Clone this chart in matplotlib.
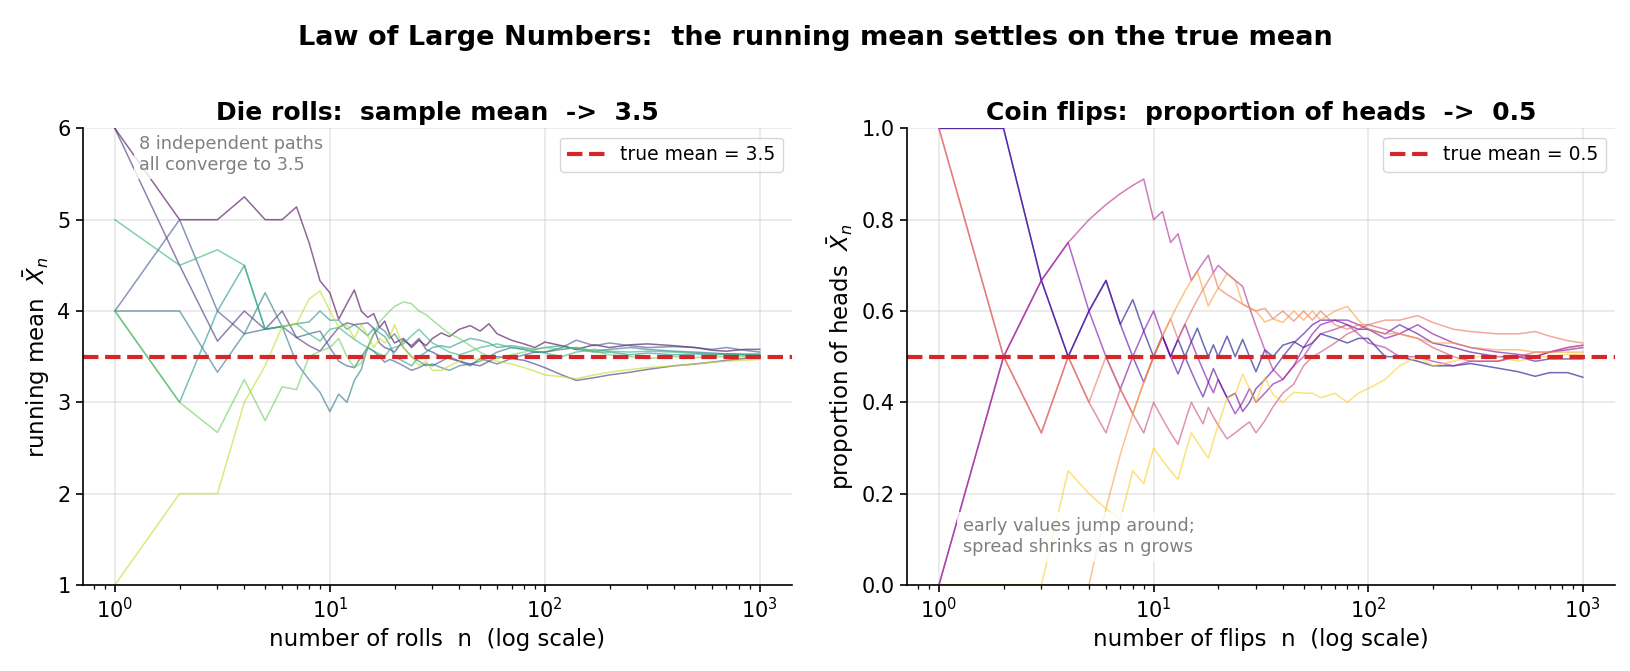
import numpy as np
import matplotlib.pyplot as plt

# sample points along each path (n on a log axis)
n_grid = [1, 2, 3, 4, 5, 6, 7, 8, 9, 10,
          11, 12, 13, 14, 15, 16, 17, 18, 19, 20,
          22, 24, 26, 28, 30, 33, 36, 40, 45, 50,
          55, 60, 70, 80, 90, 100, 120, 140, 170, 200,
          250, 300, 400, 500, 600, 700, 850, 1000]

# die rolls: running mean of 8 independent paths
die_path_1 = [6, 5, 5, 5.25, 5, 5, 5.14, 4.75, 4.33, 4.2,
              3.91, 4.08, 4.23, 4.0, 3.93, 3.97, 3.82, 3.89, 3.74, 3.65,
              3.7, 3.6, 3.68, 3.62, 3.7, 3.76, 3.72, 3.8, 3.84, 3.78,
              3.86, 3.75, 3.68, 3.64, 3.6, 3.66, 3.62, 3.58, 3.63, 3.6,
              3.63, 3.64, 3.62, 3.6, 3.57, 3.56, 3.58, 3.58]
die_path_2 = [6, 4.5, 3.67, 4, 3.8, 4, 3.71, 3.62, 3.56, 3.7,
              3.82, 3.87, 3.85, 3.86, 3.87, 3.81, 3.65, 3.6, 3.58, 3.55,
              3.68, 3.62, 3.7, 3.58, 3.55, 3.5, 3.48, 3.45, 3.42, 3.4,
              3.45, 3.5, 3.48, 3.46, 3.42, 3.38, 3.3, 3.24, 3.27, 3.3,
              3.33, 3.36, 3.4, 3.42, 3.44, 3.46, 3.48, 3.5]
die_path_3 = [4, 5, 4, 3.75, 3.8, 3.83, 3.71, 3.75, 3.78, 3.6,
              3.45, 3.4, 3.38, 3.5, 3.6, 3.56, 3.5, 3.44, 3.47, 3.45,
              3.4, 3.35, 3.38, 3.42, 3.4, 3.45, 3.5, 3.45, 3.4, 3.48,
              3.45, 3.42, 3.48, 3.52, 3.55, 3.55, 3.6, 3.68, 3.62, 3.65,
              3.62, 3.6, 3.61, 3.6, 3.58, 3.6, 3.57, 3.55]
die_path_4 = [4, 4, 3.33, 3.75, 4.2, 3.83, 3.43, 3.25, 3.11, 2.9,
              3.09, 3.0, 3.24, 3.36, 3.6, 3.75, 3.82, 3.78, 3.7, 3.75,
              3.6, 3.5, 3.45, 3.4, 3.42, 3.38, 3.35, 3.4, 3.42, 3.45,
              3.5, 3.55, 3.6, 3.58, 3.55, 3.55, 3.58, 3.6, 3.56, 3.58,
              3.6, 3.58, 3.56, 3.55, 3.54, 3.53, 3.52, 3.52]
die_path_5 = [4, 3, 4, 4.5, 3.8, 3.83, 3.86, 3.88, 4.0, 3.9,
              3.9, 3.8, 3.85, 3.79, 3.73, 3.81, 3.76, 3.72, 3.63, 3.5,
              3.45, 3.4, 3.5, 3.55, 3.6, 3.62, 3.6, 3.65, 3.7, 3.68,
              3.65, 3.6, 3.62, 3.6, 3.58, 3.6, 3.62, 3.58, 3.55, 3.55,
              3.52, 3.54, 3.52, 3.53, 3.52, 3.53, 3.53, 3.53]
die_path_6 = [5, 4.5, 4.67, 4.5, 3.8, 3.83, 3.86, 3.75, 3.67, 3.8,
              3.82, 3.75, 3.69, 3.64, 3.6, 3.56, 3.53, 3.5, 3.58, 3.6,
              3.64, 3.73, 3.8, 3.72, 3.65, 3.6, 3.55, 3.52, 3.56, 3.6,
              3.62, 3.64, 3.6, 3.58, 3.56, 3.54, 3.5, 3.55, 3.58, 3.56,
              3.55, 3.56, 3.55, 3.54, 3.53, 3.53, 3.52, 3.52]
die_path_7 = [4, 3, 2.67, 3.25, 2.8, 3.17, 3.14, 3.5, 3.56, 3.6,
              3.7, 3.5, 3.38, 3.43, 3.6, 3.75, 3.88, 3.94, 4.0, 4.05,
              4.1, 4.08, 4.0, 3.96, 3.9, 3.82, 3.75, 3.7, 3.62, 3.55,
              3.5, 3.48, 3.52, 3.55, 3.58, 3.6, 3.58, 3.6, 3.56, 3.52,
              3.5, 3.48, 3.5, 3.49, 3.5, 3.5, 3.5, 3.5]
die_path_8 = [1, 2, 2, 3, 3.4, 3.83, 3.86, 4.13, 4.22, 4.0,
              3.82, 3.85, 3.7, 3.85, 3.73, 3.6, 3.7, 3.65, 3.72, 3.85,
              3.6, 3.5, 3.4, 3.45, 3.35, 3.35, 3.4, 3.45, 3.5, 3.45,
              3.48, 3.45, 3.42, 3.38, 3.34, 3.3, 3.28, 3.26, 3.3, 3.33,
              3.36, 3.38, 3.4, 3.42, 3.44, 3.45, 3.46, 3.47]

# coin flips: running proportion of heads, 8 paths
coin_path_1 = [1, 1, .667, .5, .6, .667, .571, .625, .556, .5,
               .545, .5, .538, .5, .533, .5625, .529, .5, .526, .5,
               .545, .5, .538, .5, .467, .515, .5, .525, .533, .52,
               .53, .55, .54, .53, .54, .54, .5, .5, .49, .48,
               .48, .485, .475, .467, .457, .465, .465, .455]
coin_path_2 = [1, 1, .667, .5, .6, .667, .571, .5, .444, .5,
               .545, .5, .462, .5, .467, .4375, .412, .444, .474, .45,
               .41, .42, .38, .4, .43, .45, .47, .5, .53, .55,
               .57, .58, .58, .57, .56, .56, .55, .57, .55, .53,
               .52, .51, .5, .5, .49, .495, .495, .495]
coin_path_3 = [0, .5, .667, .75, .6, .5, .429, .5, .556, .6,
               .545, .5, .538, .571, .533, .5, .471, .444, .421, .45,
               .41, .375, .4, .43, .4, .42, .44, .45, .48, .52,
               .55, .57, .58, .58, .57, .56, .54, .55, .57, .55,
               .53, .52, .51, .505, .5, .51, .515, .52]
coin_path_4 = [0, .5, .667, .75, .8, .833, .857, .875, .889, .8,
               .818, .75, .769, .714, .667, .6875, .706, .722, .684, .7,
               .682, .667, .654, .607, .567, .515, .472, .45, .48, .5,
               .53, .55, .56, .57, .55, .53, .52, .5, .5, .49,
               .48, .49, .49, .5, .5, .51, .52, .525]
coin_path_5 = [1, .5, .333, .5, .4, .333, .429, .375, .333, .4,
               .364, .333, .308, .357, .4, .375, .353, .389, .368, .35,
               .32, .333, .346, .357, .333, .36, .39, .42, .44, .48,
               .5, .51, .53, .55, .56, .57, .56, .55, .54, .52,
               .5, .49, .49, .5, .51, .51, .52, .525]
coin_path_6 = [1, .5, .333, .5, .4, .5, .429, .375, .444, .5,
               .545, .583, .538, .571, .6, .625, .647, .667, .684, .65,
               .636, .625, .615, .607, .6, .606, .583, .6, .578, .6,
               .58, .6, .57, .56, .57, .57, .58, .58, .59, .575,
               .56, .555, .55, .55, .555, .545, .535, .53]
coin_path_7 = [0, 0, 0, 0, 0, .167, .286, .375, .444, .5,
               .545, .583, .615, .643, .667, .6875, .647, .611, .632, .65,
               .682, .667, .615, .607, .6, .576, .583, .575, .6, .58,
               .6, .58, .6, .61, .58, .56, .55, .55, .54, .53,
               .53, .52, .515, .515, .51, .51, .51, .51]
coin_path_8 = [0, 0, 0, .25, .2, .167, .143, .25, .222, .3,
               .273, .25, .231, .286, .333, .313, .294, .278, .316, .35,
               .409, .417, .462, .429, .4, .455, .417, .4, .422, .42,
               .42, .41, .42, .4, .42, .43, .45, .48, .5, .48,
               .49, .5, .5, .49, .5, .5, .505, .505]

die_paths = [die_path_1, die_path_2, die_path_3, die_path_4,
             die_path_5, die_path_6, die_path_7, die_path_8]
coin_paths = [coin_path_1, coin_path_2, coin_path_3, coin_path_4,
              coin_path_5, coin_path_6, coin_path_7, coin_path_8]

fig = plt.figure(figsize=(16.3, 6.71), dpi=100)
ax1 = fig.add_axes([0.0507, 0.1282, 0.4352, 0.6805])
ax2 = fig.add_axes([0.5563, 0.1282, 0.4345, 0.6805])

die_colors = plt.cm.viridis(np.linspace(0, 0.9, 8))
coin_colors = plt.cm.plasma(np.linspace(0, 0.9, 8))

for path, c in zip(die_paths, die_colors):
    ax1.plot(n_grid, path, color=c, alpha=0.6, lw=1.1)
for path, c in zip(coin_paths, coin_colors):
    ax2.plot(n_grid, path, color=c, alpha=0.6, lw=1.1)

ax1.axhline(3.5, color='#d62728', ls='--', lw=3, label='true mean = 3.5')
ax2.axhline(0.5, color='#d62728', ls='--', lw=3, label='true mean = 0.5')

ax1.set_xscale('log')
ax2.set_xscale('log')
ax1.set_ylim(1, 6)
ax2.set_ylim(0, 1)

ax1.set_title('Die rolls:  sample mean  ->  3.5', fontsize=18, fontweight='bold')
ax2.set_title('Coin flips:  proportion of heads  ->  0.5', fontsize=18, fontweight='bold')
ax1.set_xlabel('number of rolls  n  (log scale)', fontsize=16.5)
ax2.set_xlabel('number of flips  n  (log scale)', fontsize=16.5)
ax1.set_ylabel(r'running mean  $\bar{X}_n$', fontsize=16.5)
ax2.set_ylabel(r'proportion of heads  $\bar{X}_n$', fontsize=16.5)

for ax in (ax1, ax2):
    ax.grid(True, alpha=0.3, lw=1.2)
    ax.spines['top'].set_visible(False)
    ax.spines['right'].set_visible(False)
    ax.spines['left'].set_linewidth(1.2)
    ax.spines['bottom'].set_linewidth(1.2)
    ax.tick_params(which='major', labelsize=15, length=5.25, width=1.2)
    ax.tick_params(which='minor', length=3, width=0.9)
    ax.legend(loc='upper right', fontsize=13.5)

ax1.text(0.08, 0.985, '8 independent paths\nall converge to 3.5', transform=ax1.transAxes,
         fontsize=12.7, color='gray', va='top', ha='left',
         bbox=dict(facecolor='white', edgecolor='none', alpha=0.8))
ax2.text(0.079, 0.063, 'early values jump around;\nspread shrinks as n grows', transform=ax2.transAxes,
         fontsize=12.7, color='gray', va='bottom', ha='left',
         bbox=dict(facecolor='white', edgecolor='none', alpha=0.8))

fig.suptitle('Law of Large Numbers:  the running mean settles on the true mean',
             fontsize=19.5, fontweight='bold', y=0.963)

fig.savefig('out.png', dpi=100)
